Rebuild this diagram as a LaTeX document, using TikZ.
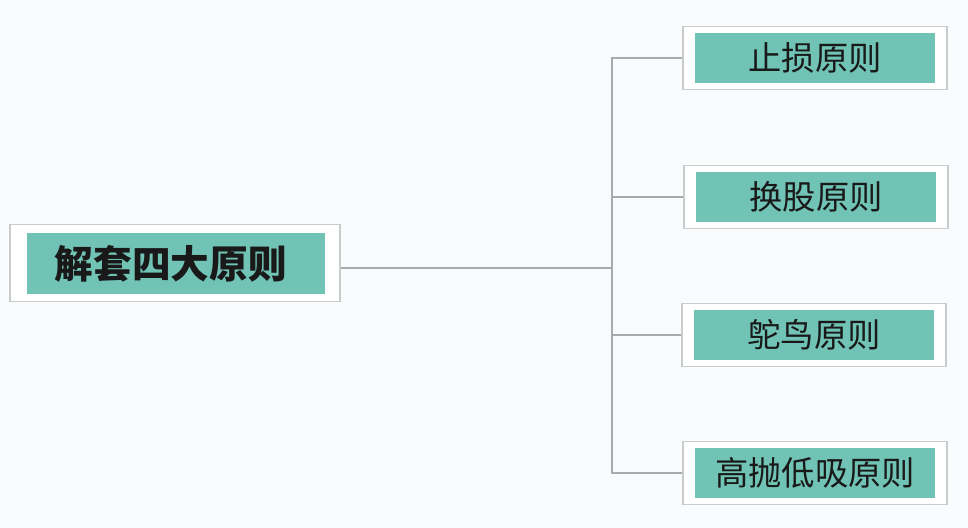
\documentclass[tikz,border=0pt]{standalone}
\usepackage{fontspec}
\newfontfamily\cjk{Noto Sans CJK SC}
\usepackage{tikz}
\usetikzlibrary{positioning}

\definecolor{paper}{HTML}{FAFBFC}
\definecolor{framegray}{HTML}{C9CCCC}
\definecolor{cellteal}{HTML}{70C3B5}
\definecolor{linegray}{HTML}{A8ABAB}

\tikzset{
    frame/.style={draw=framegray, fill=white, line width=0.8pt, inner sep=0pt},
    cell/.style={fill=cellteal, inner sep=0pt, text=black!90},
    link/.style={draw=linegray, line width=0.9pt}
}

\begin{document}
\begin{tikzpicture}[x=0.75pt, y=-0.75pt]
        % page, in pixels of the reference
        \fill[paper] (0,0) rectangle (968,528);

        % the root
        \node[frame, minimum width=247.5pt, minimum height=57.75pt] (root) at (175,263) {};
        \node[cell, minimum width=223.5pt, minimum height=45.75pt,
              font=\cjk\bfseries\fontsize{29}{31}\selectfont] (rootcell) at (176,263.5) {\hspace*{-8pt}解套四大原则};

        % the four rules
        \node[frame, minimum width=198pt, minimum height=47.25pt] (n1) at (815,58) {};
        \node[frame, minimum width=198pt, minimum height=47.25pt] (n2) at (816,197) {};
        \node[frame, minimum width=198pt, minimum height=47.25pt] (n3) at (814,335) {};
        \node[frame, minimum width=198pt, minimum height=47.25pt] (n4) at (815,473) {};

        \foreach \n/\txt in {n1/止损原则, n2/换股原则, n3/鸵鸟原则, n4/高抛低吸原则}
            \node[cell, minimum width=180pt, minimum height=37.5pt,
                  font=\cjk\fontsize{25}{27}\selectfont] (\n cell) at (\n) {\txt};

        % connectors
        \coordinate (fork) at (612,268);
        \draw[link] (root.east |- fork) -- (fork);
        \draw[link] (fork) |- (n1.west);
        \draw[link] (fork) |- (n2.west);
        \draw[link] (fork) |- (n3.west);
        \draw[link] (fork) |- (n4.west);
\end{tikzpicture}
\end{document}
